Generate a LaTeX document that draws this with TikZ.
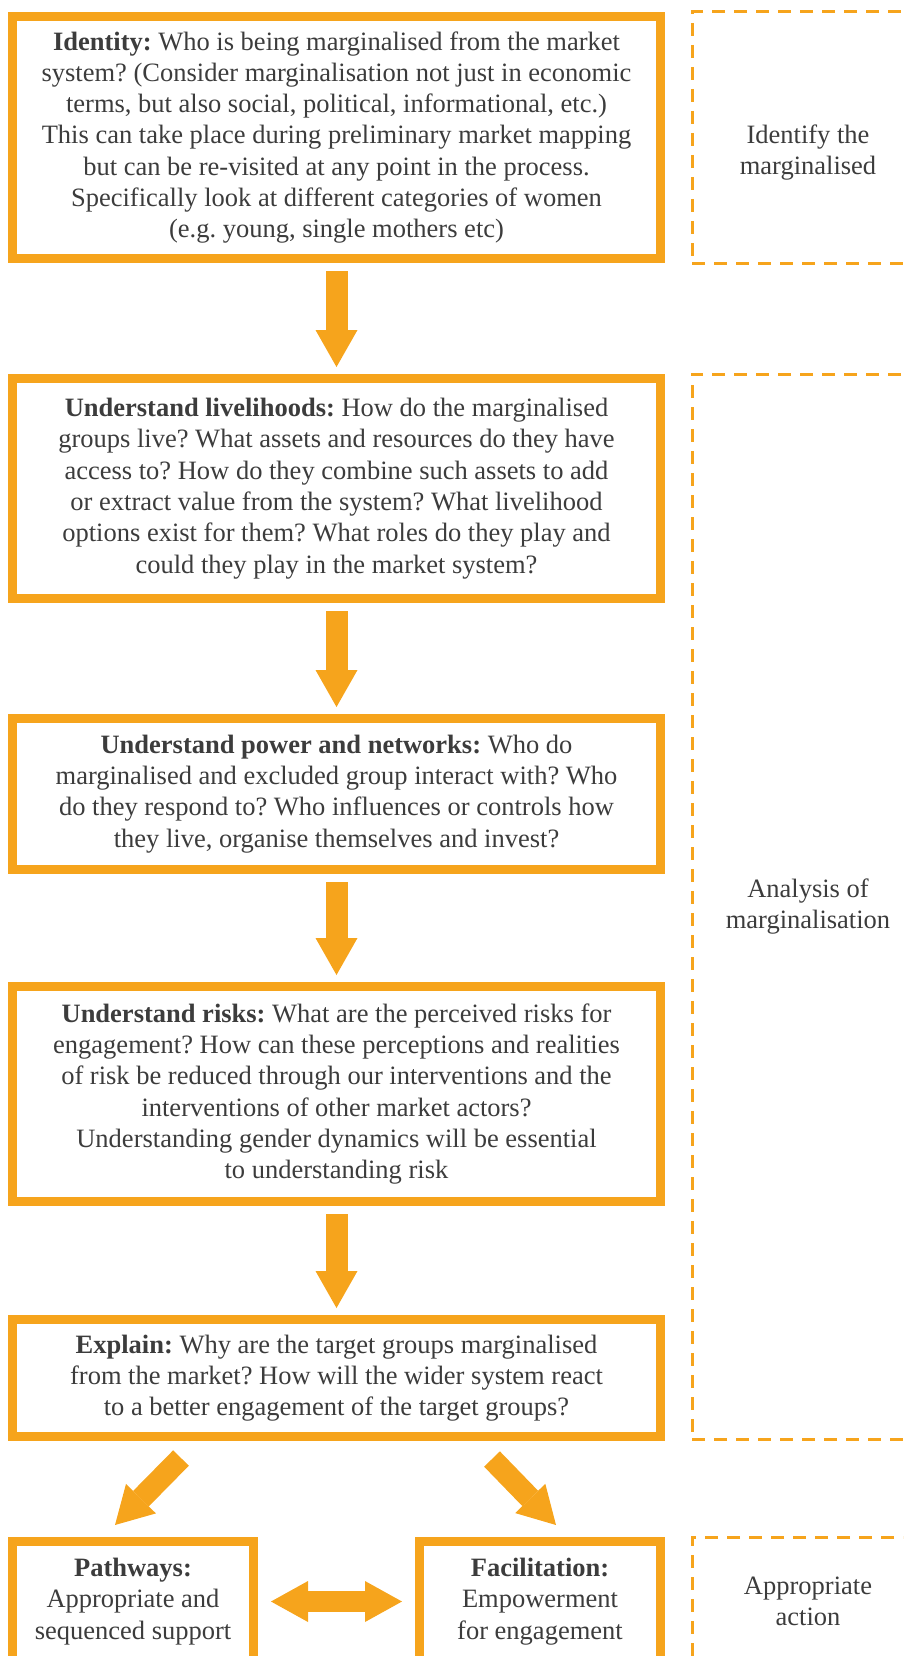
\documentclass[tikz,border=0pt]{standalone}
\usepackage{fontspec}
\setmainfont{Liberation Serif}
\usepackage{xcolor}
\usepackage{tikz}
\usetikzlibrary{arrows.meta,positioning}
\definecolor{amber}{HTML}{F6A41C}
\definecolor{ink}{HTML}{3C3C3C}

\begin{document}
\begin{tikzpicture}[x=1pt, y=1pt, font=\fontsize{26.5}{31.3}\selectfont\frenchspacing, text=ink]
        \tikzset{
            stepbox/.style={draw=amber, fill=white, rectangle, line width=9pt, align=center, minimum width=648pt, inner sep=0pt},
            zone/.style={draw=amber, rectangle, line width=3pt, dash pattern=on 13pt off 9pt, minimum width=232pt},
            side/.style={align=center},
            flow/.style={draw=amber, line width=22pt, -{Triangle[width=42pt,length=37pt,line width=0pt]}, shorten <=8pt, shorten >=7pt},
            twoway/.style={draw=amber, line width=21pt, {Triangle[width=41pt,length=37pt,line width=0pt]}-{Triangle[width=41pt,length=37pt,line width=0pt]}, shorten <=13pt, shorten >=13pt}
        }
        \clip (0,0) rectangle (903,-1656);

        % Steps
        \node [stepbox, minimum height=242pt] (ident) at (336.5,-137.5) {\textbf{Identity:} Who is being marginalised from the market\\ system? (Consider marginalisation not just in economic\\ terms, but also social, political, informational, etc.)\\ This can take place during preliminary market mapping\\ but can be re-visited at any point in the process.\\ Specifically look at different categories of women\\ (e.g. young, single mothers etc)};
        \node [stepbox, minimum height=220pt, below=111pt of ident] (livel) {\textbf{Understand livelihoods:} How do the marginalised\\ groups live? What assets and resources do they have\\ access to? How do they combine such assets to add\\ or extract value from the system? What livelihood\\ options exist for them? What roles do they play and\\ could they play in the market system?};
        \node [stepbox, minimum height=151pt, below=111pt of livel] (power) {\textbf{Understand power and networks:} Who do\\ marginalised and excluded group interact with? Who\\ do they respond to? Who influences or controls how\\ they live, organise themselves and invest?};
        \node [stepbox, minimum height=215pt, below=108pt of power] (risks) {\textbf{Understand risks:} What are the perceived risks for\\ engagement? How can these perceptions and realities\\ of risk be reduced through our interventions and the\\ interventions of other market actors?\\ Understanding gender dynamics will be essential\\ to understanding risk};
        \node [stepbox, minimum height=117pt, below=109pt of risks] (explain) {\textbf{Explain:} Why are the target groups marginalised\\ from the market? How will the wider system react\\ to a better engagement of the target groups?};
        \node [stepbox, minimum width=241pt, minimum height=120pt, below right=96pt and 0pt of explain.south west] (path) {\textbf{Pathways:}\\ Appropriate and\\ sequenced support};
        \node [stepbox, minimum width=241pt, minimum height=120pt, below left=96pt and 0pt of explain.south east] (facil) {\textbf{Facilitation:}\\ Empowerment\\ for engagement};

        % Stages
        \node [zone, minimum height=251pt] (zid) at (808,-137.5) {};
        \node [zone, minimum height=1065pt] (zan) at (808,-906.5) {};
        \node [zone, minimum height=200pt] (zact) at (808,-1637) {};
        \node [side] (idlbl) at ([yshift=-15pt]zid.center) {Identify the\\ marginalised};
        \node [side] (anlbl) at (zan.center) {Analysis of\\ marginalisation};
        \node [side] (actlbl) at (zact |- path) {Appropriate\\ action};

        % Connections
        \draw [flow] (ident) -- (livel);
        \draw [flow] (livel) -- (power);
        \draw [flow] (power) -- (risks);
        \draw [flow] (risks) -- (explain);
        \draw [flow, shorten <=0pt, shorten >=0pt] ([xshift=-155.5pt, yshift=-17pt]explain.south) -- ([xshift=-18pt, yshift=12pt]path.north);
        \draw [flow, shorten <=0pt, shorten >=0pt] ([xshift=155.5pt, yshift=-18pt]explain.south) -- ([xshift=16pt, yshift=12pt]facil.north);
        \draw [twoway] (path) -- (facil);
\end{tikzpicture}
\end{document}
